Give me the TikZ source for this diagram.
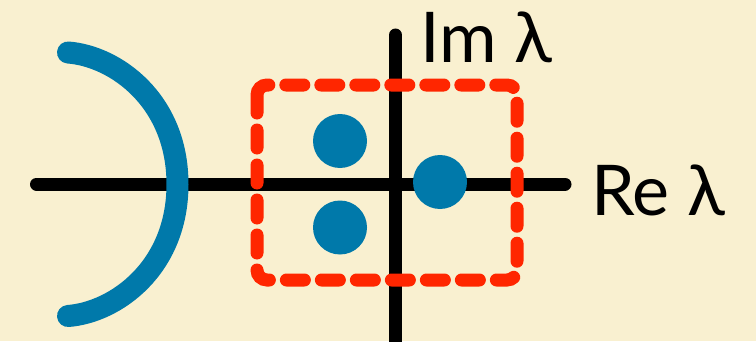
\documentclass[tikz,border=0pt]{standalone}
\usepackage{fontspec}
\setmainfont{Lato}
\definecolor{bg}{RGB}{249,240,208}
\definecolor{eigblue}{RGB}{0,121,170}
\definecolor{boxred}{RGB}{255,38,0}
\tikzset{
  axis/.style={line width=13pt, line cap=round, black},
  spectrum/.style={line width=22pt, line cap=round, eigblue},
  eigdot/.style={circle, fill=eigblue, minimum size=54pt, inner sep=0pt},
  dashbox/.style={line width=13pt, boxred, line cap=round, rounded corners=10pt, dash pattern=on 18pt off 17pt},
  axlabel/.style={inner sep=0pt, anchor=base west, font=\fontsize{70}{70}\selectfont}
}
\begin{document}
\begin{tikzpicture}[x=1pt,y=1pt]
\useasboundingbox (0,0) rectangle (756,341);
\fill[bg] (0,0) rectangle (756,341);
% axes
\coordinate (xl) at (36.5,157);
\coordinate (xr) at (565,157);
\coordinate (yt) at (395.5,306);
\coordinate (yb) at (395.5,-20);
\draw[axis] (xl) -- (xr);
\draw[axis] (yb) -- (yt);
% continuous spectrum arc
\coordinate (arctop) at (68,288.5);
\coordinate (arcmid) at (177.5,156.75);
\coordinate (arcbot) at (68,25);
\draw[spectrum] (arctop) .. controls (115,285) and (177.5,241) .. (arcmid)
  .. controls (177.5,72.5) and (115,28.5) .. (arcbot);
% dashed box
\draw[dashbox] (257,256) rectangle (517,61);
% eigenvalues
\node[eigdot] (e1) at (340,200) {};
\node[eigdot] (e2) at (340,113.5) {};
\node[eigdot] (e3) at (440,159) {};
% labels
\node[axlabel] (im) at (420,278) {Im λ};
\node[axlabel] (re) at (591,126) {Re λ};
\end{tikzpicture}
\end{document}
